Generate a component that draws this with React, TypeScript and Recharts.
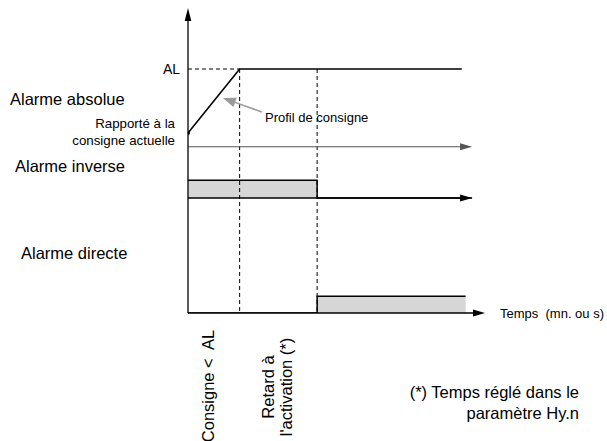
import {
  Area,
  ComposedChart,
  Line,
  ReferenceLine,
  XAxis,
  YAxis,
} from "recharts"

// time runs along x (arbitrary units), levels along y (0..100)
const profileTimes = [0, 2, 10.6]
const profileLevels = [59, 80, 80]
const alLevel = 80
const rampEnd = 2
const activationTime = 5

// alarm outputs: 1 = active, 0 = idle
const inverseTimes = [0, 5, 11]
const inverseStates = [1, 0, 0]
const directTimes = [0, 5, 10.75]
const directStates = [0, 1, 1]

const TIME_END = 11.5
const TRACK_END = 11
const ABS_BASE = 54.5
const INV_BASE = 37.7
const INV_H = 5.8
const DIR_BASE = 0
const DIR_H = 5.5

const profileData = profileTimes.map((t, i) => ({ t, v: profileLevels[i] }))
const inverseData = inverseTimes.map((t, i) => ({ t, v: INV_BASE + inverseStates[i] * INV_H }))
const directData = directTimes.map((t, i) => ({ t, v: DIR_BASE + directStates[i] * DIR_H }))

const font = '"Liberation Sans", Arial, Helvetica, sans-serif'

const arrow =
  (head = 12, half = 3.5, color = "#000", width = 1.2) =>
  (p: any) => {
    const { x1, y1, x2, y2 } = p
    const dx = x2 - x1
    const dy = y2 - y1
    const len = Math.hypot(dx, dy) || 1
    const ux = dx / len
    const uy = dy / len
    const bx = x2 - ux * head
    const by = y2 - uy * head
    const px = -uy * half
    const py = ux * half
    return (
      <g>
        <line x1={x1} y1={y1} x2={bx} y2={by} stroke={color} strokeWidth={width} />
        <polygon points={`${x2},${y2} ${bx + px},${by + py} ${bx - px},${by - py}`} fill={color} />
      </g>
    )
  }

const dashed = { stroke: "#000", strokeWidth: 1, strokeDasharray: "4 3", ifOverflow: "visible" as const }

const AlarmChart = () => {
  return (
    <div style={{ position: "absolute", left: 0, top: 0, width: 607, height: 441, background: "#fff" }}>
      <ComposedChart width={607} height={441} margin={{ top: 8, right: 122, bottom: 128, left: 188 }}>
        <XAxis type="number" dataKey="t" domain={[0, TIME_END]} allowDataOverflow hide />
        <YAxis type="number" domain={[0, 100]} allowDataOverflow hide />

        {/* dashed guides */}
        <ReferenceLine segment={[{ x: 0, y: alLevel }, { x: rampEnd, y: alLevel }]} {...dashed} />
        <ReferenceLine segment={[{ x: rampEnd, y: alLevel }, { x: rampEnd, y: 0 }]} {...dashed} />
        <ReferenceLine segment={[{ x: activationTime, y: alLevel }, { x: activationTime, y: 0 }]} {...dashed} />

        {/* alarm tracks */}
        <Area
          data={inverseData}
          dataKey="v"
          type="stepAfter"
          baseValue={INV_BASE}
          fill="#d6d6d6"
          fillOpacity={1}
          stroke="#000"
          strokeWidth={1.5}
          dot={false}
          activeDot={false}
          isAnimationActive={false}
        />
        <Area
          data={directData}
          dataKey="v"
          type="stepAfter"
          baseValue={DIR_BASE}
          fill="#d6d6d6"
          fillOpacity={1}
          stroke="#000"
          strokeWidth={1.5}
          dot={false}
          activeDot={false}
          isAnimationActive={false}
        />

        {/* axes with arrows */}
        <ReferenceLine
          segment={[{ x: 0, y: ABS_BASE }, { x: TRACK_END, y: ABS_BASE }]}
          ifOverflow="visible"
          shape={arrow(12, 3.5, "#555", 1)}
        />
        <ReferenceLine
          segment={[{ x: 0, y: INV_BASE }, { x: TRACK_END, y: INV_BASE }]}
          ifOverflow="visible"
          shape={arrow(12, 3.5, "#000", 1.3)}
        />
        <ReferenceLine
          segment={[{ x: 0, y: 0 }, { x: TIME_END, y: 0 }]}
          ifOverflow="visible"
          shape={arrow(12, 3.5, "#000", 1.5)}
        />
        <ReferenceLine
          segment={[{ x: 0, y: 0 }, { x: 0, y: 100 }]}
          ifOverflow="visible"
          shape={arrow(13, 3.3, "#000", 1.3)}
        />

        {/* setpoint profile */}
        <Line
          data={profileData}
          dataKey="v"
          type="linear"
          stroke="#000"
          strokeWidth={1.6}
          dot={(p: any) =>
            p.index === 0 ? (
              <circle key={`d${p.index}`} cx={p.cx} cy={p.cy} r={2} fill="#000" />
            ) : (
              <g key={`d${p.index}`} />
            )
          }
          activeDot={false}
          isAnimationActive={false}
        />
        <ReferenceLine
          segment={[{ x: 2.86, y: 65.9 }, { x: 1.35, y: 70.5 }]}
          ifOverflow="visible"
          shape={arrow(13, 5, "#9a9a9a", 1.5)}
        />
      </ComposedChart>

      <svg
        width={607}
        height={441}
        style={{ position: "absolute", left: 0, top: 0, pointerEvents: "none" }}
        fontFamily={font}
        fill="#000"
      >
        <text x={180} y={74} fontSize={14} textAnchor="end">AL</text>
        <text x={10} y={105} fontSize={16.5}>Alarme absolue</text>
        <text x={175} y={128} fontSize={13.3} textAnchor="end">Rapporté à la</text>
        <text x={175} y={145} fontSize={13.3} textAnchor="end">consigne actuelle</text>
        <text x={15} y={172} fontSize={16.5}>Alarme inverse</text>
        <text x={21} y={259} fontSize={16.5}>Alarme directe</text>
        <text x={265} y={122} fontSize={13}>Profil de consigne</text>
        <text x={500} y={318} fontSize={13} style={{ whiteSpace: "pre" }}>Temps  (mn. ou s)</text>
        <text x={214} y={386} fontSize={16.5} textAnchor="middle" transform="rotate(-90 214 386)" style={{ whiteSpace: "pre" }}>Consigne &lt;  AL</text>
        <text x={274} y={387} fontSize={16.5} textAnchor="middle" transform="rotate(-90 274 387)">Retard à</text>
        <text x={292} y={387} fontSize={16.5} textAnchor="middle" transform="rotate(-90 292 387)">l'activation (*)</text>
        <text x={579} y={398} fontSize={16.5} textAnchor="end">(*) Temps réglé dans le</text>
        <text x={579} y={419} fontSize={16.5} textAnchor="end">paramètre Hy.n</text>
      </svg>
    </div>
  )
}

export default function App() {
  return <AlarmChart />
}
